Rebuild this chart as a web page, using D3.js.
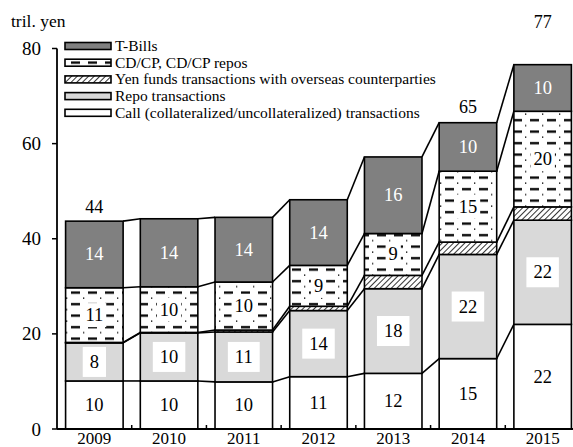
<!DOCTYPE html>
<html><head><meta charset="utf-8">
<script src="https://cdn.jsdelivr.net/npm/d3@7"></script>
<style>body{margin:0;background:#fff}svg{display:block} svg text{font-family:"Liberation Serif",serif !important;}</style>
</head><body><svg id="c" width="573" height="447"></svg>
<script>
const years = ["2009","2010","2011","2012","2013","2014","2015"];
const seriesNames = ["Call (collateralized/uncollateralized) transactions","Repo transactions","Yen funds transactions with overseas counterparties","CD/CP, CD/CP repos","T-Bills"];
const callVals  = [10.1,10.1,9.9,11.0,11.7,14.8,22.0];
const repoVals  = [8.0,10.1,10.5,13.9,17.8,21.9,21.9];
const yenVals   = [0.1,0.1,0.4,0.9,2.8,2.6,2.8];
const cdVals    = [11.5,9.6,10.1,8.6,8.8,14.9,20.1];
const tbVals    = [14.0,14.3,13.6,13.8,16.1,10.2,9.8];
const callLabels = [10,10,10,11,12,15,22];
const repoLabels = [8,10,11,14,18,22,22];
const cdLabels   = [11,10,10,9,9,15,20];
const tbLabels   = [14,14,14,14,16,10,10];
const totalLabels = [44,null,null,null,null,65,77];
const yTicks = [0,20,40,60,80];

const svg = d3.select("#c");
const defs = svg.append("defs");
const pd = defs.append("pattern").attr("id","dash").attr("patternUnits","userSpaceOnUse")
  .attr("width",17).attr("height",11.5);
pd.append("rect").attr("width",17).attr("height",11.5).attr("fill","#fff");
pd.append("rect").attr("x",3).attr("y",4).attr("width",9).attr("height",2.3).attr("fill","#000");
pd.append("rect").attr("x",15).attr("y",10).attr("width",1.3).attr("height",1.3).attr("fill","#000");
const ph = defs.append("pattern").attr("id","hatch").attr("patternUnits","userSpaceOnUse")
  .attr("width",4).attr("height",4).attr("patternTransform","rotate(45)");
ph.append("rect").attr("width",4).attr("height",4).attr("fill","#fff");
ph.append("line").attr("x1",0).attr("y1",0).attr("x2",0).attr("y2",4).attr("stroke","#000").attr("stroke-width",1.6);

const fills = ["#ffffff","#d9d9d9","url(#hatch)","url(#dash)","#808080"];
const vals = [callVals,repoVals,yenVals,cdVals,tbVals];
const labs = [callLabels,repoLabels,null,cdLabels,tbLabels];

const x = d3.scaleBand().domain(years).range([57,580]).paddingInner(0.23).paddingOuter(0.115);
const y = d3.scaleLinear().domain([0,80]).range([429,48.5]);
const bw = x.bandwidth();

const data = years.map((yr,i)=>{const o={year:yr}; seriesNames.forEach((s,k)=>o[s]=vals[k][i]); return o;});
const stack = d3.stack().keys(seriesNames)(data);

const g = svg.append("g");
stack.forEach((layer,k)=>{
  for(let i=0;i<years.length-1;i++){
    [0,1].forEach(e=>{
      if(k>0 && e===0) return;
      g.append("line")
        .attr("x1",x(years[i])+bw).attr("y1",y(layer[i][e]))
        .attr("x2",x(years[i+1])).attr("y2",y(layer[i+1][e]))
        .attr("stroke","#000").attr("stroke-width",1.6);
    });
  }
});

stack.forEach((layer,k)=>{
  g.selectAll(null).data(layer).enter().append("rect")
    .attr("x",(d,i)=>x(years[i])).attr("width",bw)
    .attr("y",d=>y(d[1])).attr("height",d=>y(d[0])-y(d[1]))
    .attr("fill",fills[k]).attr("stroke","#000").attr("stroke-width",1.6);
});

stack.forEach((layer,k)=>{
  if(!labs[k]) return;
  layer.forEach((d,i)=>{
    const cx = x(years[i])+bw/2, cy = (y(d[0])+y(d[1]))/2;
    const t = g.append("text").attr("x",cx).attr("y",cy+6).attr("text-anchor","middle")
      .attr("font-size",18.5).attr("fill",k===4?"#fff":"#000").text(labs[k][i]);
    if(k===1 || k===3){
      const bb = t.node().getBBox();
      const px = k===1?7:3, py = k===1?5:2;
      g.insert("rect",()=>t.node()).attr("x",bb.x-px).attr("y",bb.y-py)
        .attr("width",bb.width+2*px).attr("height",bb.height+2*py).attr("fill","#fff");
    }
  });
});

const totalGap = [8,0,0,0,0,10,37];
const topLayer = stack[stack.length-1];
totalLabels.forEach((v,i)=>{
  if(v==null) return;
  g.append("text").attr("x",x(years[i])+bw/2).attr("y",y(topLayer[i][1])-totalGap[i])
    .attr("text-anchor","middle").attr("font-size",18).text(v);
});

const ax = svg.append("g");
ax.append("line").attr("x1",57).attr("x2",57).attr("y1",y(80)).attr("y2",y(0)).attr("stroke","#000").attr("stroke-width",1.8);
ax.append("line").attr("x1",57).attr("x2",573).attr("y1",y(0)).attr("y2",y(0)).attr("stroke","#000").attr("stroke-width",1.8);
yTicks.forEach(v=>{
  ax.append("line").attr("x1",52).attr("x2",57).attr("y1",y(v)).attr("y2",y(v)).attr("stroke","#000").attr("stroke-width",1.5);
  ax.append("text").attr("x",41).attr("y",y(v)+6.5).attr("text-anchor","end").attr("font-size",19).text(v);
});
years.forEach((yr,i)=>{
  if(i>0){
    const bx = x(yr) - x.step()*x.paddingInner()/2;
    ax.append("line").attr("x1",bx).attr("x2",bx).attr("y1",y(0)).attr("y2",y(0)-4).attr("stroke","#000").attr("stroke-width",1.5);
  }
  ax.append("text").attr("x",x(yr)+bw/2).attr("y",444).attr("text-anchor","middle").attr("font-size",17).text(yr);
});
svg.append("text").attr("x",11).attr("y",27).attr("font-size",17.5).text("tril. yen");

const legOrder = [4,3,2,1,0];
legOrder.forEach((k,j)=>{
  const cy = 46 + j*16.7;
  svg.append("rect").attr("x",65).attr("y",cy-3.5).attr("width",46).attr("height",7)
    .attr("fill",fills[k]).attr("stroke","#000").attr("stroke-width",1.6);
  svg.append("text").attr("x",115).attr("y",cy+4.8).attr("font-size",15.5).text(seriesNames[k]);
});
</script></body></html>
